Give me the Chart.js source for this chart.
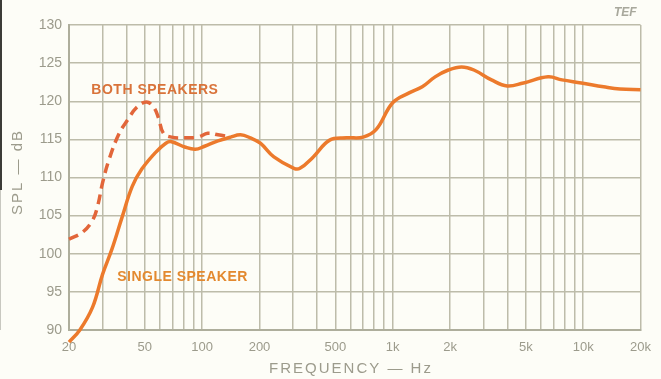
<!DOCTYPE html>
<html>
<head>
<meta charset="utf-8">
<script src="https://cdn.jsdelivr.net/npm/chart.js@4.4.1/dist/chart.umd.min.js"></script>
<style>
  html, body { margin: 0; padding: 0; background: #fdfdf7; }
  #wrap { width: 661px; height: 379px; position: relative; }
</style>
</head>
<body>
<div id="wrap"><canvas id="splChart"></canvas></div>
<script>
// --- Measured response, Hz vs dB SPL ---
const singleFreq = [20, 22.8, 26.6, 30, 33.6, 38, 42.9, 48.2, 57, 64.5, 69, 81, 92, 103, 121, 141, 159, 179, 202, 238, 303, 326, 383, 467, 573, 700, 820, 1000, 1220, 1430, 1670, 1960, 2300, 2670, 3300, 3990, 4860, 6540, 7740, 9780, 12800, 15600, 20000];
const singleSpl  = [88.4, 90.0, 93.0, 97.3, 100.6, 104.8, 108.8, 111.1, 113.3, 114.5, 114.7, 114.0, 113.7, 114.1, 114.8, 115.3, 115.6, 115.2, 114.5, 112.7, 111.2, 111.2, 112.7, 114.9, 115.2, 115.3, 116.3, 119.8, 121.1, 121.9, 123.2, 124.1, 124.5, 124.1, 122.8, 122.0, 122.4, 123.2, 122.8, 122.4, 121.9, 121.6, 121.5];

const bothFreq = [20, 23.5, 26.6, 28.3, 30, 32.6, 36.7, 40.5, 45.4, 51, 55.7, 59, 62.6, 69, 81, 95, 107, 121, 141];
const bothSpl  = [101.9, 102.8, 104.4, 106.3, 109.3, 112.5, 115.8, 117.5, 119.2, 119.9, 119.2, 117.8, 115.8, 115.3, 115.2, 115.3, 115.8, 115.6, 115.3];

const freqTicks = [20, 30, 40, 50, 60, 70, 80, 90, 100, 200, 300, 400, 500, 600, 700, 800, 900,
                   1000, 2000, 3000, 4000, 5000, 6000, 7000, 8000, 9000, 10000, 20000];
const freqLabels = { 20: '20', 50: '50', 100: '100', 200: '200', 500: '500', 1000: '1k',
                     2000: '2k', 5000: '5k', 10000: '10k', 20000: '20k' };

const toPoints = (xs, ys) => xs.map((x, i) => ({ x: x, y: ys[i] }));

const gridColor = '#bdbcaa';
const inkGray = '#9c9b8c';

// axis titles, curve captions and the logo mark
const annotations = {
    id: 'annotations',
    afterDraw(chart) {
        const c = chart.ctx;
        const xs = chart.scales.x, ys = chart.scales.y;
        c.save();

        // scanned page edge
        c.fillStyle = '#3c3c38';
        c.fillRect(0, 0, 2, 190);
        c.fillStyle = '#c8c8c0';
        c.fillRect(0, 190, 1, 140);

        c.fillStyle = inkGray;
        c.font = '15px "Liberation Sans", sans-serif';
        c.textAlign = 'center';
        c.textBaseline = 'middle';
        if (c.letterSpacing !== undefined) c.letterSpacing = '2px';
        c.fillText('FREQUENCY — Hz', 351, 369);

        c.translate(18, 172);
        c.rotate(-Math.PI / 2);
        c.fillText('SPL — dB', 0, 0);
        c.setTransform(1, 0, 0, 1, 0, 0);
        if (c.letterSpacing !== undefined) c.letterSpacing = '0.5px';

        c.font = 'bold 14px "Liberation Sans", sans-serif';
        c.textAlign = 'left';
        c.fillStyle = '#d9733a';
        c.fillText('BOTH SPEAKERS', xs.getPixelForValue(26.2), ys.getPixelForValue(121.5));
        c.fillStyle = '#e3892f';
        c.fillText('SINGLE SPEAKER', xs.getPixelForValue(35.8), ys.getPixelForValue(96.9));
        if (c.letterSpacing !== undefined) c.letterSpacing = '0px';

        c.font = 'italic bold 12px "Liberation Sans", sans-serif';
        c.fillStyle = '#a8a89c';
        c.fillText('TEF', 614, 13);
        c.restore();
    }
};

new Chart(document.getElementById('splChart'), {
    type: 'line',
    data: {
        datasets: [
            {
                label: 'Single speaker',
                data: toPoints(singleFreq, singleSpl),
                borderColor: '#ec7a2c',
                borderWidth: 3.5,
                pointRadius: 0,
                tension: 0.4,
                clip: false
            },
            {
                label: 'Both speakers',
                data: toPoints(bothFreq, bothSpl),
                borderColor: '#e2663a',
                borderWidth: 3.5,
                borderDash: [10, 6],
                pointRadius: 0,
                tension: 0.4,
                clip: false
            }
        ]
    },
    options: {
        responsive: true,
        maintainAspectRatio: false,
        animation: false,
        layout: { padding: { left: 0, right: 13, top: 25, bottom: 0 } },
        plugins: { legend: { display: false }, tooltip: { enabled: false } },
        scales: {
            x: {
                type: 'logarithmic',
                min: 20,
                max: 20000,
                afterBuildTicks: (scale) => { scale.ticks = freqTicks.map(v => ({ value: v })); },
                afterFit: (scale) => { scale.height = 49; },
                grid: { color: gridColor, lineWidth: 1.5, drawTicks: false },
                border: { color: '#aeae9c', width: 2 },
                ticks: {
                    autoSkip: false,
                    maxRotation: 0,
                    padding: 10,
                    color: inkGray,
                    font: { family: '"Liberation Sans", sans-serif', size: 13 },
                    callback: (v) => freqLabels[v] || ''
                }
            },
            y: {
                min: 90,
                max: 130,
                afterFit: (scale) => { scale.width = 69; },
                grid: { color: gridColor, lineWidth: 1.5, drawTicks: false },
                border: { color: '#aeae9c', width: 2 },
                ticks: {
                    stepSize: 5,
                    padding: 7,
                    color: inkGray,
                    font: { family: '"Liberation Sans", sans-serif', size: 14 }
                }
            }
        }
    },
    plugins: [annotations]
});
</script>
</body>
</html>
